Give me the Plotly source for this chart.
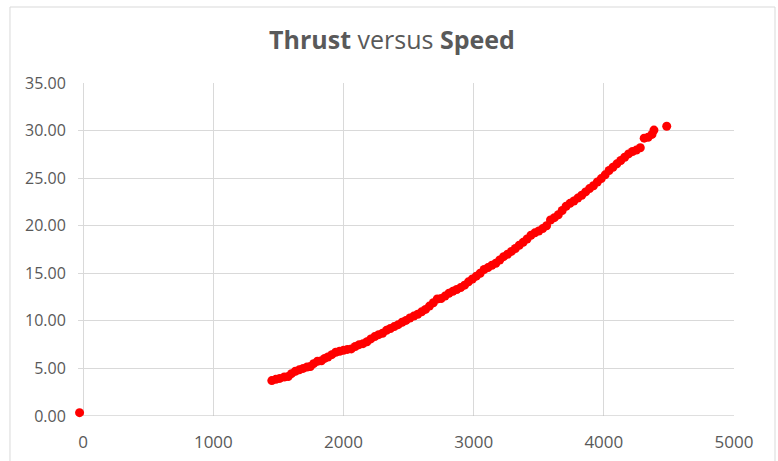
import plotly.graph_objects as go

speed = [-28,
    1449, 1480, 1510, 1545, 1575, 1600, 1630, 1660, 1690, 1720, 1745, 1770, 1800, 1830, 1855,
    1880, 1910, 1940, 1970, 2000, 2030, 2060, 2090, 2120, 2150, 2180, 2210, 2240, 2270, 2300,
    2330, 2360, 2390, 2420, 2450, 2480, 2510, 2540, 2570, 2600, 2630, 2660, 2690, 2720, 2750,
    2780, 2810, 2840, 2870, 2900, 2930, 2960, 2990, 3020, 3050, 3080, 3110, 3140, 3170, 3200,
    3230, 3260, 3290, 3320, 3350, 3380, 3410, 3440, 3470, 3500, 3530, 3560, 3590, 3620, 3650,
    3680, 3710, 3740, 3770, 3800, 3830, 3860, 3890, 3920, 3950, 3980, 4010, 4040, 4070, 4100,
    4130, 4160, 4190, 4220, 4250, 4280, 4310, 4340, 4370, 4385, 4483]
thrust = [0.35,
    3.72, 3.85, 3.95, 4.10, 4.15, 4.45, 4.70, 4.85, 5.00, 5.15, 5.20, 5.50, 5.75, 5.80, 6.05,
    6.20, 6.45, 6.70, 6.80, 6.90, 7.00, 7.05, 7.30, 7.50, 7.60, 7.80, 8.10, 8.35, 8.55, 8.70,
    9.00, 9.20, 9.40, 9.60, 9.85, 10.05, 10.30, 10.50, 10.70, 10.95, 11.20, 11.55, 11.90, 12.30, 12.35,
    12.60, 12.90, 13.10, 13.30, 13.50, 13.75, 14.10, 14.40, 14.70, 15.00, 15.40, 15.60, 15.85, 16.05, 16.40,
    16.75, 17.00, 17.30, 17.60, 17.95, 18.25, 18.60, 19.00, 19.25, 19.45, 19.70, 20.00, 20.60, 20.85, 21.15,
    21.60, 22.05, 22.35, 22.60, 22.90, 23.20, 23.55, 23.90, 24.20, 24.60, 24.95, 25.35, 25.80, 26.15, 26.50,
    26.85, 27.20, 27.55, 27.80, 27.95, 28.20, 29.20, 29.30, 29.60, 30.05, 30.45]

x_ticks = [0, 1000, 2000, 3000, 4000, 5000]
y_ticks = [0, 5, 10, 15, 20, 25, 30, 35]

fig = go.Figure(go.Scatter(
    x=speed, y=thrust, mode="markers",
    marker=dict(color="#ff0000", size=9, line=dict(width=0)),
    cliponaxis=False,
))

txt = "#595959"
grid = "#d9d9d9"
fig.update_layout(
    width=778, height=461,
    margin=dict(l=78, r=44, t=83, b=45, autoexpand=False),
    paper_bgcolor="white", plot_bgcolor="white",
    showlegend=False,
    font=dict(family="Open Sans", color=txt, size=17),
    title=dict(text="<b>Thrust</b> versus <b>Speed</b>", x=392 / 778, xref="container", xanchor="center",
               y=1 - 40 / 461, yref="container", yanchor="middle",
               font=dict(family="Open Sans", size=25, color=txt)),
    xaxis=dict(range=[-40, 5000], tickvals=x_ticks, ticktext=[str(v) for v in x_ticks],
               showgrid=True, gridcolor=grid, gridwidth=1, zeroline=False,
               showline=False, automargin=False,
               ticks="outside", ticklen=11, tickcolor="rgba(0,0,0,0)",
               tickfont=dict(size=17, color=txt)),
    yaxis=dict(range=[0, 35], tickvals=y_ticks, ticktext=["%.2f" % v for v in y_ticks],
               showgrid=True, gridcolor=grid, gridwidth=1, zeroline=False,
               showline=False, automargin=False,
               ticks="outside", ticklen=8, tickcolor="rgba(0,0,0,0)",
               tickfont=dict(size=16, color=txt)),
    shapes=[
        dict(type="rect", xref="paper", yref="paper",
             x0=-0.1037, x1=1.0625, y0=-0.2, y1=1.2282,
             line=dict(color="#d9d9d9", width=1), fillcolor="rgba(0,0,0,0)", layer="below"),
        dict(type="rect", xref="x", yref="paper", x0=-45, x1=-4, y0=-0.01, y1=1.01,
             line=dict(width=0), fillcolor="white", layer="between"),
        dict(type="line", xref="x", yref="y", x0=0, x1=5000, y0=0, y1=0,
             line=dict(color="#bfbfbf", width=1), layer="between"),
    ],
)
fig.write_html("out.html", config={"displayModeBar": False},
               post_script="document.body.style.margin='0';")
